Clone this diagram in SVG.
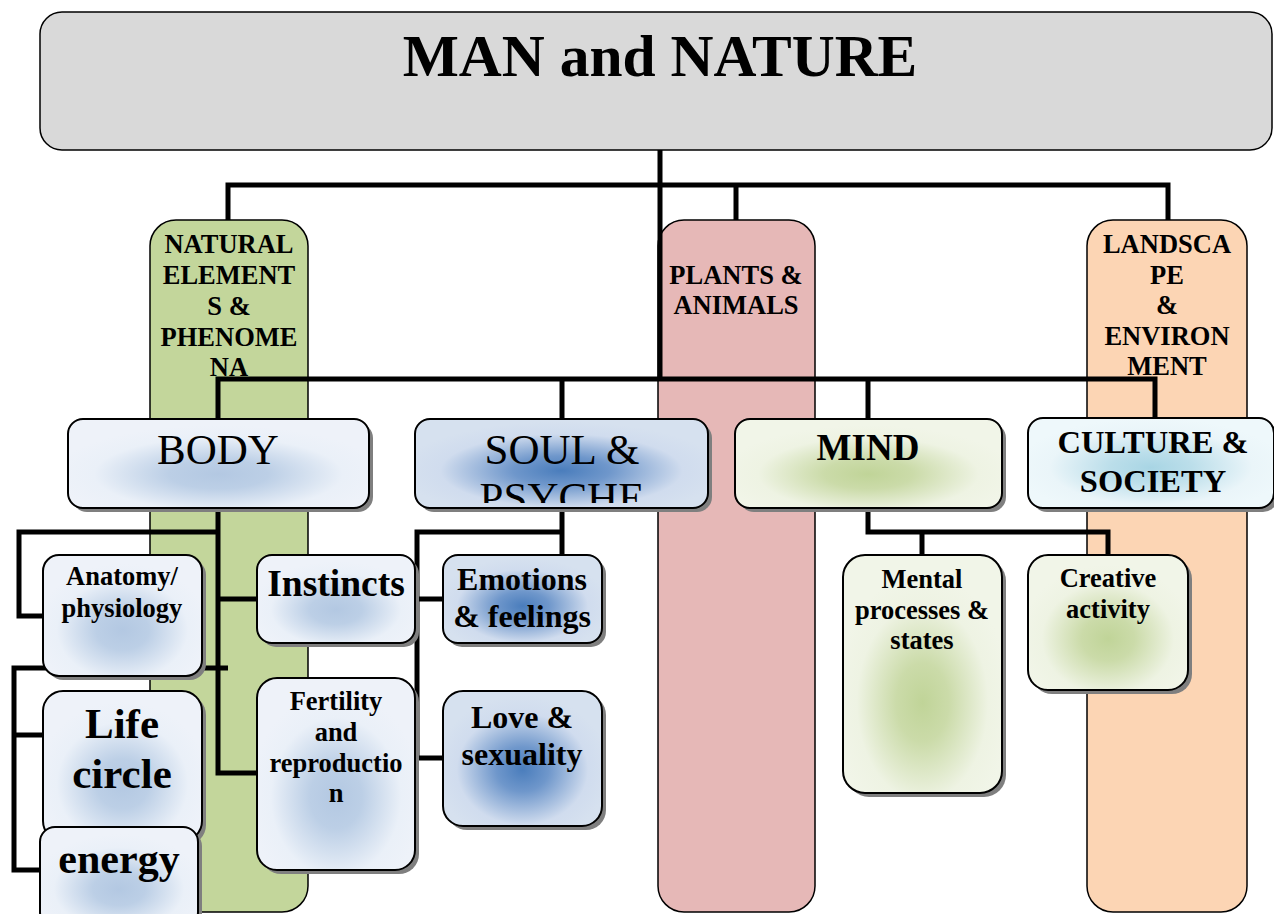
<svg xmlns="http://www.w3.org/2000/svg" width="1274" height="914" viewBox="0 0 1274 914">
<style>
.col{stroke:#000;stroke-width:1.5}
.box{stroke:#000;stroke-width:2}
.sh{fill:#7f7f7f}
.t{font-family:"Liberation Serif","Times New Roman",serif;font-weight:bold;text-anchor:middle;fill:#000}
.n{font-weight:normal}
.conn{fill:none;stroke:#000;stroke-width:5;stroke-linejoin:miter}
</style>
<defs>
<radialGradient id="gBody" cx="0.5" cy="0.62" r="0.55">
<stop offset="0" stop-color="#b3c8e2"/><stop offset="0.3" stop-color="#bccfe6"/><stop offset="0.75" stop-color="#eaf0f8"/><stop offset="1" stop-color="#eef2f9"/>
</radialGradient>
<radialGradient id="gSoul" cx="0.5" cy="0.58" r="0.55">
<stop offset="0" stop-color="#4a7dbc"/><stop offset="0.3" stop-color="#6f97cb"/><stop offset="0.75" stop-color="#d0dcee"/><stop offset="1" stop-color="#d6e1ef"/>
</radialGradient>
<radialGradient id="gMind" cx="0.5" cy="0.62" r="0.55">
<stop offset="0" stop-color="#c0d498"/><stop offset="0.3" stop-color="#cbdba9"/><stop offset="0.75" stop-color="#eef3e3"/><stop offset="1" stop-color="#f1f5e8"/>
</radialGradient>
<radialGradient id="gCult" cx="0.5" cy="0.55" r="0.55">
<stop offset="0" stop-color="#a8d5e4"/><stop offset="0.3" stop-color="#bbdeea"/><stop offset="0.75" stop-color="#eaf5f9"/><stop offset="1" stop-color="#eef8fb"/>
</radialGradient>
<clipPath id="soulClip"><rect x="415" y="419" width="293" height="84"/></clipPath>
</defs>
<rect width="1274" height="914" fill="#fff"/>

<g id="title">
<rect x="40" y="12" width="1232" height="138" rx="22" fill="#d9d9d9" class="col"/>
<text class="t" x="660" y="76" font-size="59.5">MAN and NATURE</text>
</g>

<g id="natural">
<rect x="150" y="220" width="158" height="692" rx="26" fill="#c3d69b" class="col"/>
<text class="t" font-size="26.5" x="229" y="253">NATURAL</text>
<text class="t" font-size="26.5" x="229" y="284">ELEMENT</text>
<text class="t" font-size="26.5" x="229" y="315">S &amp;</text>
<text class="t" font-size="26.5" x="229" y="346">PHENOME</text>
<text class="t" font-size="26.5" x="229" y="376">NA</text>
</g>

<g id="plants">
<rect x="658" y="220" width="157" height="692" rx="26" fill="#e6b8b7" class="col"/>
<text class="t" font-size="26.5" x="736" y="284">PLANTS &amp;</text>
<text class="t" font-size="26.5" x="736" y="314">ANIMALS</text>
</g>

<g id="landscape">
<rect x="1087" y="220" width="160" height="692" rx="26" fill="#fcd5b4" class="col"/>
<text class="t" font-size="26.5" x="1167" y="253">LANDSCA</text>
<text class="t" font-size="26.5" x="1167" y="284">PE</text>
<text class="t" font-size="26.5" x="1167" y="314">&amp;</text>
<text class="t" font-size="26.5" x="1167" y="345">ENVIRON</text>
<text class="t" font-size="26.5" x="1167" y="375">MENT</text>
</g>

<g id="connectors">
<path class="conn" d="M660,150 V379"/>
<path class="conn" d="M228,220 V185 H1168 V220 M736,185 V220"/>
<path class="conn" d="M218,418 V379 H1155 V418 M562,379 V418 M868,379 V418"/>
<path class="conn" d="M218,508 V773 H258 M218,599 H258 M218,532 H19 V616 H43 M228,668 H14 V870 H40 M14,735 H43"/>
<path class="conn" d="M562,508 V555 M562,532 H417 V758 H443 M417,599 H443"/>
<path class="conn" d="M868,508 V532 H1108 V555 M922,532 V555"/>
</g>

<g id="body">
<rect class="sh" x="72" y="423" width="301" height="89" rx="15"/>
<rect class="box" x="68" y="419" width="301" height="89" rx="15" fill="url(#gBody)"/>
<text class="t n" font-size="43" x="218" y="464">BODY</text>
</g>

<g id="soul">
<rect class="sh" x="419" y="423" width="293" height="89" rx="15"/>
<rect class="box" x="415" y="419" width="293" height="89" rx="15" fill="url(#gSoul)"/>
<g clip-path="url(#soulClip)">
<text class="t n" font-size="43" x="562" y="464">SOUL &amp;</text>
<text class="t n" font-size="43" x="562" y="512">PSYCHE</text>
</g>
</g>

<g id="mind">
<rect class="sh" x="739" y="423" width="267" height="89" rx="15"/>
<rect class="box" x="735" y="419" width="267" height="89" rx="15" fill="url(#gMind)"/>
<text class="t" font-size="37" x="868" y="460">MIND</text>
</g>

<g id="culture">
<rect class="sh" x="1032" y="422" width="246" height="90" rx="15"/>
<rect class="box" x="1028" y="418" width="246" height="90" rx="15" fill="url(#gCult)"/>
<text class="t" font-size="32.5" x="1153" y="453">CULTURE &amp;</text>
<text class="t" font-size="32.5" x="1153" y="492">SOCIETY</text>
</g>

<g id="anatomy">
<rect class="sh" x="47" y="559" width="159" height="121" rx="16"/>
<rect class="box" x="43" y="555" width="159" height="121" rx="16" fill="url(#gBody)"/>
<text class="t" font-size="26.5" x="122" y="585">Anatomy/</text>
<text class="t" font-size="26.5" x="122" y="617">physiology</text>
</g>

<g id="instincts">
<rect class="sh" x="261" y="559" width="158" height="88" rx="15"/>
<rect class="box" x="257" y="555" width="158" height="88" rx="15" fill="url(#gBody)"/>
<text class="t" font-size="37.5" x="336" y="596">Instincts</text>
</g>

<g id="fertility">
<rect class="sh" x="261" y="682" width="158" height="192" rx="20"/>
<rect class="box" x="257" y="678" width="158" height="192" rx="20" fill="url(#gBody)"/>
<text class="t" font-size="26.5" x="336" y="710">Fertility</text>
<text class="t" font-size="26.5" x="336" y="741">and</text>
<text class="t" font-size="26.5" x="336" y="772">reproductio</text>
<text class="t" font-size="26.5" x="336" y="802">n</text>
</g>

<g id="life">
<rect class="sh" x="47" y="695" width="159" height="150" rx="20"/>
<rect class="box" x="43" y="691" width="159" height="150" rx="20" fill="url(#gBody)"/>
<text class="t" font-size="43" x="122" y="738">Life</text>
<text class="t" font-size="43" x="122" y="788">circle</text>
</g>

<g id="energy">
<rect class="sh" x="44" y="831" width="158" height="100" rx="15"/>
<rect class="box" x="40" y="827" width="158" height="100" rx="15" fill="url(#gBody)"/>
<text class="t" font-size="42" x="119" y="873">energy</text>
</g>

<g id="emotions">
<rect class="sh" x="447" y="559" width="159" height="88" rx="15"/>
<rect class="box" x="443" y="555" width="159" height="88" rx="15" fill="url(#gSoul)"/>
<text class="t" font-size="32" x="522" y="590">Emotions</text>
<text class="t" font-size="32" x="522" y="627">&amp; feelings</text>
</g>

<g id="love">
<rect class="sh" x="447" y="695" width="159" height="135" rx="20"/>
<rect class="box" x="443" y="691" width="159" height="135" rx="20" fill="url(#gSoul)"/>
<text class="t" font-size="32" x="522" y="728">Love &amp;</text>
<text class="t" font-size="32" x="522" y="765">sexuality</text>
</g>

<g id="mental">
<rect class="sh" x="847" y="559" width="159" height="238" rx="22"/>
<rect class="box" x="843" y="555" width="159" height="238" rx="22" fill="url(#gMind)"/>
<text class="t" font-size="26.5" x="922" y="588">Mental</text>
<text class="t" font-size="26.5" x="922" y="619">processes &amp;</text>
<text class="t" font-size="26.5" x="922" y="649">states</text>
</g>

<g id="creative">
<rect class="sh" x="1032" y="559" width="160" height="135" rx="20"/>
<rect class="box" x="1028" y="555" width="160" height="135" rx="20" fill="url(#gMind)"/>
<text class="t" font-size="26.5" x="1108" y="587">Creative</text>
<text class="t" font-size="26.5" x="1108" y="618">activity</text>
</g>
</svg>
